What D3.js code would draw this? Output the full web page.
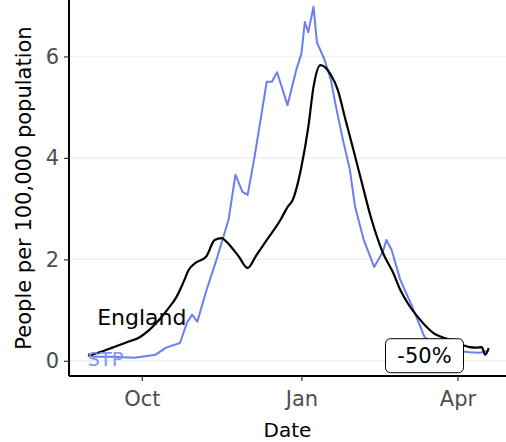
<!DOCTYPE html>
<html>
<head>
	<title>People per 100,000</title>
	<meta charset="utf-8">
	<script type="text/javascript" src="https://cdn.jsdelivr.net/npm/d3@7"></script>
	<style type="text/css">
	     body{ margin:0; background:#fff; }
	     svg{ font-family:"DejaVu Sans", sans-serif; display:block; }
	     .tick text{ fill:#4d4d4d; font-size:21px; }
	     .title{ font-size:21px; fill:#000; }
	</style>
</head>
<body>
<div id="chart"></div>
<script type="text/javascript">
        var englandDates=["2020-08-31","2020-09-07","2020-09-14","2020-09-22","2020-09-30","2020-10-05","2020-10-11","2020-10-16","2020-10-21","2020-10-25","2020-10-28","2020-11-01","2020-11-07","2020-11-12","2020-11-16","2020-11-19","2020-11-26","2020-12-01","2020-12-06","2020-12-12","2020-12-20","2020-12-24","2020-12-27","2021-01-01","2021-01-05","2021-01-08","2021-01-12","2021-01-18","2021-01-22","2021-01-26","2021-01-31","2021-02-04","2021-02-10","2021-02-17","2021-02-23","2021-02-27","2021-03-04","2021-03-09","2021-03-18","2021-03-28","2021-04-04","2021-04-08","2021-04-12","2021-04-15","2021-04-17","2021-04-19"];
        var englandValues=[0.10,0.17,0.26,0.36,0.47,0.60,0.81,1.02,1.26,1.55,1.79,1.93,2.05,2.38,2.42,2.34,2.05,1.83,2.08,2.38,2.78,3.03,3.17,3.82,4.61,5.40,5.83,5.64,5.34,4.81,4.16,3.63,2.84,2.13,1.73,1.40,1.10,0.87,0.55,0.41,0.31,0.27,0.26,0.27,0.12,0.25];

        var stpDates=["2020-08-31","2020-09-03","2020-09-14","2020-09-27","2020-10-09","2020-10-15","2020-10-23","2020-10-27","2020-10-30","2020-11-02","2020-11-07","2020-11-13","2020-11-17","2020-11-20","2020-11-24","2020-11-28","2020-12-01","2020-12-05","2020-12-08","2020-12-12","2020-12-15","2020-12-18","2020-12-24","2020-12-29","2021-01-01","2021-01-03","2021-01-05","2021-01-08","2021-01-10","2021-01-14","2021-01-18","2021-01-21","2021-01-25","2021-01-29","2021-02-01","2021-02-06","2021-02-12","2021-02-17","2021-02-19","2021-02-22","2021-02-27","2021-03-06","2021-03-13","2021-03-22","2021-04-01","2021-04-08","2021-04-14","2021-04-19"];
        var stpValues=[0.14,0.08,0.08,0.06,0.12,0.26,0.35,0.75,0.91,0.77,1.36,1.99,2.44,2.78,3.67,3.33,3.27,4.02,4.65,5.50,5.50,5.69,5.04,5.73,6.05,6.68,6.48,6.98,6.27,5.97,5.54,5.00,4.35,3.76,3.03,2.38,1.85,2.15,2.38,2.19,1.60,1.06,0.47,0.25,0.20,0.17,0.16,0.20];

        var xTicks=["2020-10-01","2021-01-01","2021-04-01"];
        var xTickLabels=["Oct","Jan","Apr"];
        var yTicks=[0,2,4,6];
        var changeLabel="-50%";

        var parse=d3.timeParse("%Y-%m-%d");
        var W=506,H=442;
        // note: "top" is reserved on window, so use mTop etc.
        var mLeft=69,mRight=506,mTop=0,mBottom=376;

        var x=d3.scaleTime()
              .domain([parse("2020-08-20"),parse("2021-04-29")])
              .range([mLeft,mRight]);
        var y=d3.scaleLinear()
              .domain([-0.3,7.113])
              .range([mBottom,mTop]);

        var svg=d3.select("#chart").append("svg")
              .attr("width",W)
              .attr("height",H);

        // grid
        svg.selectAll(".grid")
              .data(yTicks)
              .enter()
              .append("line")
              .attr("class","grid")
              .attr("x1",mLeft).attr("x2",mRight)
              .attr("y1",function(d){ return y(d); })
              .attr("y2",function(d){ return y(d); })
              .attr("stroke","#efefef")
              .attr("stroke-width",1.5);

        var line=d3.line()
              .x(function(d){ return x(d[0]); })
              .y(function(d){ return y(d[1]); });

        var stp=stpDates.map(function(d,i){ return [parse(d),stpValues[i]]; });
        var eng=englandDates.map(function(d,i){ return [parse(d),englandValues[i]]; });

        svg.append("path")
              .datum(stp)
              .attr("d",line)
              .attr("fill","none")
              .attr("stroke","#6a7ef0")
              .attr("stroke-width",2)
              .attr("stroke-linejoin","round");

        svg.append("path")
              .datum(eng)
              .attr("d",line.curve(d3.curveMonotoneX))
              .attr("fill","none")
              .attr("stroke","#000")
              .attr("stroke-width",2.2)
              .attr("stroke-linejoin","round");

        // text labels on the lines
        svg.append("text")
              .attr("x",x(parse("2020-10-01")))
              .attr("y",y(0.85))
              .attr("text-anchor","middle")
              .attr("dominant-baseline","central")
              .style("font-size","22px")
              .text("England");
        svg.append("text")
              .attr("x",x(parse("2020-09-10")))
              .attr("y",y(0.02))
              .attr("text-anchor","middle")
              .attr("dominant-baseline","central")
              .attr("fill","#8394f3")
              .style("font-size","19.5px")
              .text("STP");

        // axes
        var xAxis=d3.axisBottom(x)
              .tickValues(xTicks.map(parse))
              .tickFormat(function(d,i){ return xTickLabels[i]; })
              .tickSize(5).tickPadding(10);
        var gx=svg.append("g")
              .attr("transform","translate(0,"+mBottom+")")
              .call(xAxis);
        var yAxis=d3.axisLeft(y)
              .tickValues(yTicks)
              .tickSize(5).tickPadding(5);
        var gy=svg.append("g")
              .attr("transform","translate("+mLeft+",0)")
              .call(yAxis);
        gx.select(".domain").attr("d","M"+mLeft+",0H"+mRight).attr("stroke-width",2);
        gy.select(".domain").attr("d","M0,"+mTop+"V"+mBottom).attr("stroke-width",2);
        svg.selectAll(".tick line").attr("stroke","#333").attr("stroke-width",1.2);
        svg.selectAll(".tick text").style("font-family","DejaVu Sans");

        // change label
        var lx=x(parse("2021-03-13")),ly=y(0.1);
        svg.append("rect")
              .attr("x",lx-39).attr("y",ly-17)
              .attr("width",78).attr("height",34)
              .attr("rx",5)
              .attr("fill","#fff")
              .attr("stroke","#000")
              .attr("stroke-width",1);
        svg.append("text")
              .attr("x",lx).attr("y",ly)
              .attr("text-anchor","middle")
              .attr("dominant-baseline","central")
              .style("font-size","21px")
              .text(changeLabel);

        svg.append("text")
              .attr("class","title")
              .attr("x",(mLeft+mRight)/2)
              .attr("y",437)
              .attr("text-anchor","middle")
              .style("font-size","20px")
              .text("Date");
        svg.append("text")
              .attr("class","title")
              .attr("transform","translate(31,"+((mTop+mBottom)/2)+") rotate(-90)")
              .attr("text-anchor","middle")
              .text("People per 100,000 population");
</script>
</body>
</html>
